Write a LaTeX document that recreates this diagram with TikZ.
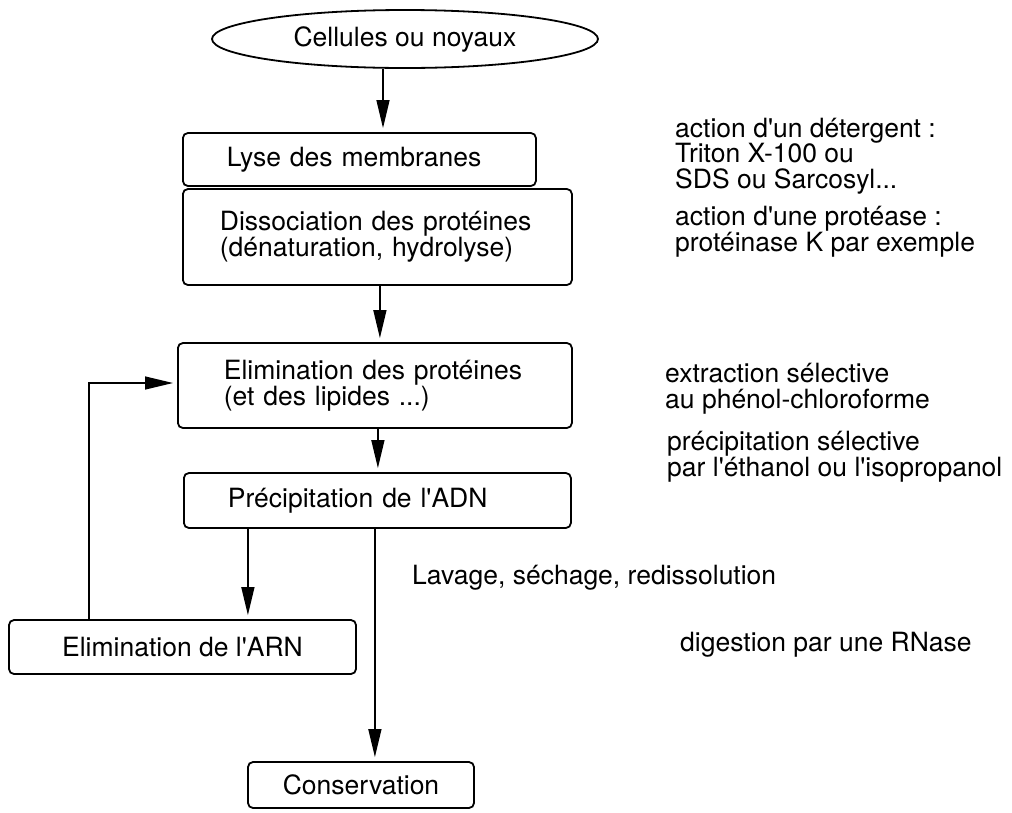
\documentclass[tikz,border=0pt]{standalone}
\usepackage{fontspec}
\setmainfont{TeX Gyre Heros}
\usetikzlibrary{arrows.meta, positioning, shapes.geometric}

\begin{document}
\begin{tikzpicture}[x=1pt, y=-1pt,
    every node/.style={font=\fontsize{26.5}{25}\selectfont, inner sep=0pt},
    box/.style={rectangle, rounded corners=5pt, draw, line width=1.8pt,
                minimum height=54pt, align=center},
    lbox/.style={box, anchor=west, align=left, inner ysep=0pt},
    note/.style={anchor=base west, align=left, font=\fontsize{26.5}{25.5}\selectfont},
    ar/.style={-{Triangle[length=28pt, width=13pt]}, line width=1.4pt, shorten >=4pt}
]
\useasboundingbox (0,0) rectangle (1012,812);
\node[ellipse, draw, line width=1.8pt, minimum width=386pt, minimum height=58pt] (cells) at (405,39) {Cellules ou noyaux};
\node[lbox, inner xsep=44pt, text width=265pt, minimum height=53pt] (lyse) at (182,159.5) {Lyse des membranes};
\node[lbox, inner xsep=37pt, text width=315pt, minimum height=96pt] (dissoc) at (182,237) {Dissociation des protéines\\(dénaturation, hydrolyse)};
\node[lbox, inner xsep=46pt, text width=302pt, minimum height=85pt] (elimprot) at (177,385.5) {Elimination des protéines\\(et des lipides ...)};
\node[lbox, inner xsep=44pt, text width=299pt, minimum height=55pt] (precip) at (183,500.5) {Précipitation de l\textquotesingle ADN};
\node[box, minimum width=347pt] (elimarn) at (182.5,647) {Elimination de l\textquotesingle ARN};
\node[box, minimum width=226pt, minimum height=46pt] (conserv) at (361,785) {Conservation};

\node[note] (deterg) at (675,188) {action d\textquotesingle un détergent :\\Triton X-100 ou\\SDS ou Sarcosyl...};
\node[note] (protease) at (675,251) {action d\textquotesingle une protéase :\\protéinase K par exemple};
\node[note] (extract) at (665,408) {extraction sélective\\au phénol-chloroforme};
\node[note] (ethanol) at (667,476) {précipitation sélective\\par l\textquotesingle éthanol ou l\textquotesingle isopropanol};
\node[note] (lavage) at (412,584) {Lavage, séchage, redissolution};
\node[note] (rnase) at (680,651) {digestion par une RNase};

\draw[ar] ([xshift=-22pt]cells.south) -- ([xshift=-22pt]cells.south |- lyse.north);
\draw[ar] ([xshift=2.5pt]dissoc.south) -- ([xshift=2.5pt]dissoc.south |- elimprot.north);
\draw[ar] ([xshift=3pt]elimprot.south) -- ([xshift=3pt]elimprot.south |- precip.north);
\draw[ar] ([xshift=-129.5pt]precip.south) -- ([xshift=-129.5pt]precip.south |- elimarn.north);
\draw[ar] ([xshift=-2.5pt]precip.south) -- ([xshift=-2.5pt]precip.south |- conserv.north);
\draw[ar] ([xshift=-93.5pt]elimarn.north) |- ([yshift=2.5pt]elimprot.west);
\end{tikzpicture}
\end{document}
